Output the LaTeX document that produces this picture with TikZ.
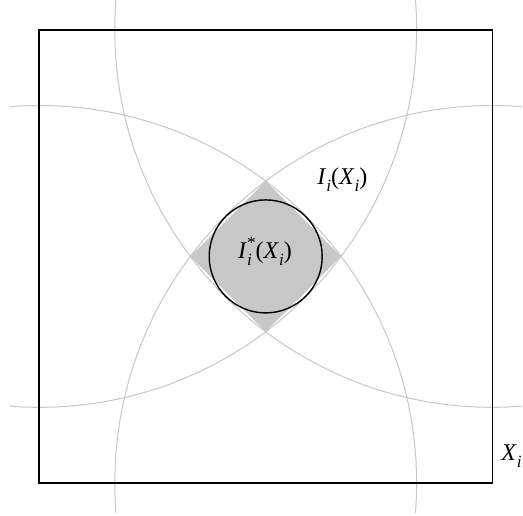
\documentclass[tikz,border=0pt]{standalone}
\usepackage{fontspec}
\setmainfont{Liberation Serif}
\newcommand{\subi}{\raisebox{-0.3em}{\fontsize{8.6}{9}\selectfont\itshape i}}
\newcommand{\supstar}{\raisebox{0.4em}{\fontsize{8.6}{9}\selectfont *}}
\begin{document}
\begin{tikzpicture}[x=0.5pt,y=-0.5pt,
  arcline/.style={draw=black!22, line width=0.5pt},
  frame/.style={draw=black, line width=0.7pt},
  shade/.style={fill=black!22},
  lbl/.style={font=\fontsize{12}{14}\selectfont, inner sep=0pt}]
\useasboundingbox (0,0) rectangle (523,515);
\coordinate (c) at (265.7,256.4);
\coordinate (tl) at (39.1,29.8);
\coordinate (tr) at (492.3,29.8);
\coordinate (bl) at (39.1,483);
\coordinate (br) at (492.3,483);
% shaded diamond
\fill[shade] (190.4,256.4) -- (265.7,181.1) -- (341,256.4) -- (265.7,331.7) -- cycle;
% four large circles centred at the corners
\begin{scope}
  \clip (9.7,0.4) rectangle (521.7,512.4);
  \foreach \p in {tl,tr,bl,br} \draw[arcline] (\p) circle[radius=377.5];
\end{scope}
% inner circle
\draw[frame] (c) circle[radius=56.5];
% square
\draw[frame] (tl) rectangle (br);
% labels
\node[lbl, anchor=base west] (Ii) at (317,184) {\textit{I}\subi(\textit{X}\subi)};
\node[lbl, anchor=base] (Istar) at (265,258) {\textit{I}\rlap{\subi}\supstar(\textit{X}\subi)};
\node[lbl, anchor=base west] (Xi) at (501,460) {\textit{X}\subi};
\end{tikzpicture}
\end{document}
